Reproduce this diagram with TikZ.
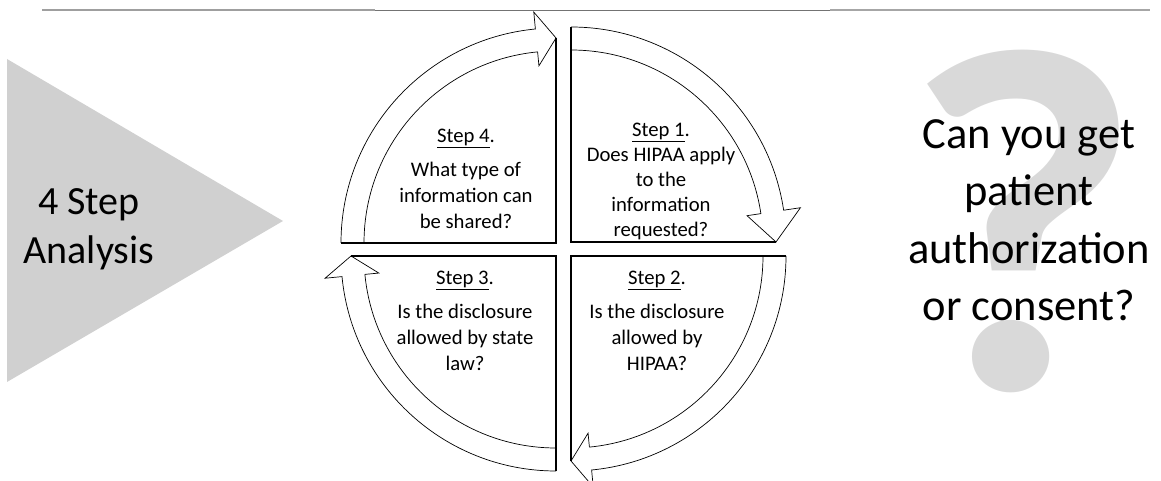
\documentclass[tikz,border=0pt]{standalone}
\usepackage{fontspec}
\setmainfont{Carlito}
\usepackage{graphicx}
\definecolor{shadegray}{RGB}{208,208,208}
\definecolor{markgray}{RGB}{217,217,217}
\tikzset{boxline/.style={line width=1.3pt}, arcline/.style={line width=0.7pt},
  steptext/.style={align=center, font=\fontsize{20.7}{26}\selectfont, inner sep=0pt},
  pics/steparrow/.style={code={
    \draw[boxline] (0:205) -- (0,0) -- (90:215);
    \draw[arcline] (90:215) arc[start angle=90, end angle=#1, radius=215] -- (#1:232) -- (0:205) -- (#1:178) -- (#1:192) arc[start angle=#1, end angle=90, radius=192];
  }}}

\begin{document}
\begin{tikzpicture}[x=1pt,y=1pt]
\useasboundingbox (0,0) rectangle (1161,481);
% rule along the top
\draw[gray!75, line width=1.2pt] (42,471) -- (375,471);
\draw[black!55, line width=1.5pt] (375,470.5) -- (830,470.5);
\draw[gray!70, line width=1.2pt] (830,471) -- (1150,471);

% left pointer
\fill[shadegray] (7,422) -- (283,260) -- (7,99) -- cycle;
\node[font=\fontsize{40}{49}\selectfont, align=center] (analysis) at (89,252) {4 Step\\Analysis};

% question on the right
\node[text=markgray, inner sep=0pt, anchor=south] (qmark) at (1023,88) {\resizebox{240pt}{338pt}{\bfseries ?}};
\node[font=\fontsize{44.5}{57.5}\selectfont, align=center] (consent) at (1029,261) {Can you get\\patient\\authorization\\or consent?};

% the four quadrants
\pic at (571,239) {steparrow=8.5};
\pic[rotate=90] at (556,238) {steparrow=5.5};
\pic[rotate=180] at (556,225) {steparrow=5.5};
\pic[rotate=-90] at (571,225) {steparrow=5.5};

\node[steptext, font=\fontsize{20.7}{25}\selectfont] (step1) at (661,300) {\underline{Step 1}.\\Does HIPAA apply\\to the\\information\\requested?};
\node[steptext] (step4) at (466,302) {\underline{Step 4}.\\[8pt]What type of\\information can\\be shared?};
\node[steptext] (step3) at (465,160) {\underline{Step 3}.\\[8pt]Is the disclosure\\allowed by state\\law?};
\node[steptext] (step2) at (657,160) {\underline{Step 2}.\\[8pt]Is the disclosure\\allowed by\\HIPAA?};
\end{tikzpicture}
\end{document}
